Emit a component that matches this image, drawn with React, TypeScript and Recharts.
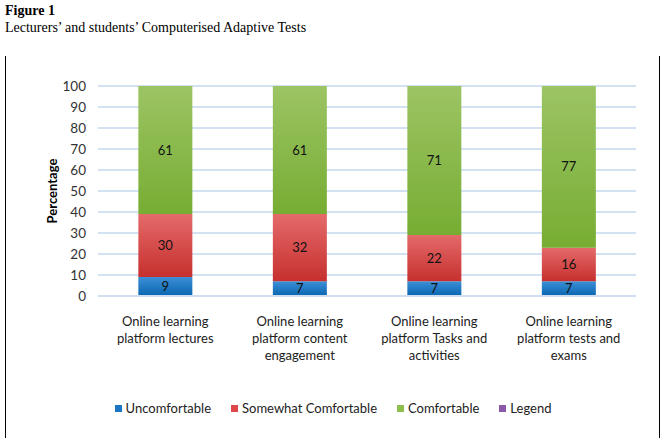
import React from "react"
import { BarChart, Bar, XAxis, YAxis, CartesianGrid, LabelList, Label } from "recharts"

const categories = [
  "Online learning\nplatform lectures",
  "Online learning\nplatform content\nengagement",
  "Online learning\nplatform Tasks and\nactivities",
  "Online learning\nplatform tests and\nexams",
]
const uncomfortable = [9, 7, 7, 7]
const somewhatComfortable = [30, 32, 22, 16]
const comfortable = [61, 61, 71, 77]
const yTicks = [0, 10, 20, 30, 40, 50, 60, 70, 80, 90, 100]

const legendItems = [
  { name: "Uncomfortable", color: "#1a76c2" },
  { name: "Somewhat Comfortable", color: "#e0474a" },
  { name: "Comfortable", color: "#8dbf4c" },
  { name: "Legend", color: "#8a5aa8" },
]

const chartData = categories.map((c, i) => ({
  name: c,
  uncomfortable: uncomfortable[i],
  somewhat: somewhatComfortable[i],
  comfortable: comfortable[i],
}))

const font = "Lato, 'Open Sans', sans-serif"

function CategoryTick(props: any) {
  const { x, y, payload } = props
  const lines = String(payload.value).split("\n")
  return (
    <text x={x} y={y} textAnchor="middle" fill="#222" fontSize={13} fontFamily={font}>
      {lines.map((l, i) => (
        <tspan key={i} x={x} dy={i === 0 ? 22 : 17}>
          {l}
        </tspan>
      ))}
    </text>
  )
}

export default function App() {
  return (
    <div style={{ position: "fixed", left: 0, top: 0, width: 668, height: 438, background: "#fff", overflow: "hidden" }}>
      <div style={{ position: "absolute", left: 5, top: 3, fontFamily: "'Liberation Serif', serif", fontSize: 14, fontWeight: "bold", color: "#000" }}>
        Figure 1
      </div>
      <div style={{ position: "absolute", left: 5, top: 20, fontFamily: "'Liberation Serif', serif", fontSize: 14, color: "#000" }}>
        Lecturers’ and students’ Computerised Adaptive Tests
      </div>
      <div style={{ position: "absolute", left: 5, top: 56, width: 1, height: 400, background: "#000" }} />
      <div style={{ position: "absolute", left: 659, top: 56, width: 1, height: 400, background: "#000" }} />

      <div style={{ position: "absolute", left: 0, top: 0 }}>
        <BarChart
          width={668}
          height={438}
          data={chartData}
          margin={{ top: 86, right: 32, bottom: 82, left: 0 }}
          barCategoryGap="30%"
        >
          <defs>
            <linearGradient id="gBlue" x1="0" y1="0" x2="0" y2="1">
              <stop offset="0%" stopColor="#3d8fd6" />
              <stop offset="100%" stopColor="#0866b0" />
            </linearGradient>
            <linearGradient id="gRed" x1="0" y1="0" x2="0" y2="1">
              <stop offset="0%" stopColor="#e46a6a" />
              <stop offset="100%" stopColor="#c6302e" />
            </linearGradient>
            <linearGradient id="gGreen" x1="0" y1="0" x2="0" y2="1">
              <stop offset="0%" stopColor="#9cc464" />
              <stop offset="100%" stopColor="#77ad33" />
            </linearGradient>
          </defs>
          <CartesianGrid vertical={false} stroke="#d3e2f3" strokeWidth={2} />
          <XAxis
            dataKey="name"
            height={60}
            axisLine={{ stroke: "#cfdff1", strokeWidth: 2 }}
            tickLine={false}
            tick={<CategoryTick />}
            interval={0}
          />
          <YAxis
            width={98}
            domain={[0, 100]}
            ticks={yTicks}
            interval={0}
            axisLine={false}
            tickLine={false}
            tickSize={6}
            tickMargin={6}
            tick={{ fill: "#333", fontSize: 13.5, fontFamily: font }}
          >
            <Label
              value="Percentage"
              angle={-90}
              position="insideLeft"
              offset={52}
              style={{ fontWeight: "bold", fontSize: 13, fill: "#000", fontFamily: font, textAnchor: "middle" }}
            />
          </YAxis>
          <Bar dataKey="uncomfortable" stackId="a" fill="url(#gBlue)" isAnimationActive={false}>
            <LabelList dataKey="uncomfortable" position="center" fill="#111" fontSize={13} fontFamily={font} />
          </Bar>
          <Bar dataKey="somewhat" stackId="a" fill="url(#gRed)" isAnimationActive={false}>
            <LabelList dataKey="somewhat" position="center" fill="#111" fontSize={13} fontFamily={font} />
          </Bar>
          <Bar dataKey="comfortable" stackId="a" fill="url(#gGreen)" isAnimationActive={false}>
            <LabelList dataKey="comfortable" position="center" fill="#111" fontSize={13} fontFamily={font} />
          </Bar>
        </BarChart>
      </div>

      <div style={{ position: "absolute", left: 0, width: 668, top: 400, display: "flex", justifyContent: "center", fontFamily: font, fontSize: 13, color: "#222" }}>
        <div style={{ display: "flex", gap: 20, marginLeft: -2 }}>
          {legendItems.map((it) => (
            <div key={it.name} style={{ display: "flex", alignItems: "center" }}>
              <span style={{ display: "inline-block", width: 7, height: 7, background: it.color, marginRight: 4 }} />
              <span>{it.name}</span>
            </div>
          ))}
        </div>
      </div>
    </div>
  )
}
